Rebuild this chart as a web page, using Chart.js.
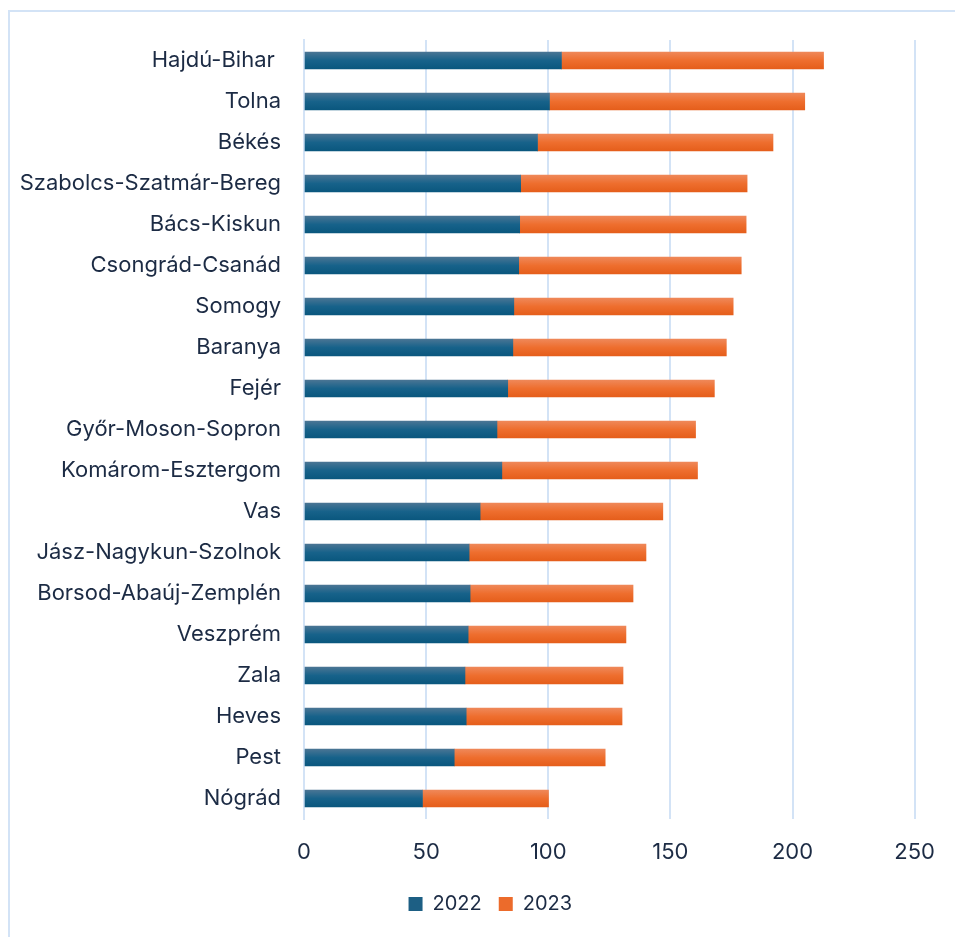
<!DOCTYPE html>
<html>
<head>
<meta charset="utf-8">
<script src="https://cdn.jsdelivr.net/npm/chart.js@4.4.1/dist/chart.umd.min.js"></script>
<style>
  body { margin: 0; background: #fff; }
  #frame { position: absolute; left: 8px; top: 10px; width: 960px; height: 940px; border: 2px solid #d3e3f6; }
  #wrap { position: absolute; left: 0; top: 0; width: 955px; height: 937px; }
</style>
</head>
<body>
<div id="frame"></div>
<div id="wrap"><canvas id="statsChart"></canvas></div>
<script>
// counties, top to bottom as in the picture
const counties = [
    "Hajdú-Bihar ", "Tolna", "Békés", "Szabolcs-Szatmár-Bereg", "Bács-Kiskun",
    "Csongrád-Csanád", "Somogy", "Baranya", "Fejér", "Győr-Moson-Sopron",
    "Komárom-Esztergom", "Vas", "Jász-Nagykun-Szolnok", "Borsod-Abaúj-Zemplén",
    "Veszprém", "Zala", "Heves", "Pest", "Nógrád"
];
const values2022 = [105.4, 100.5, 95.6, 88.7, 88.3, 87.9, 85.9, 85.5, 83.4, 79.0, 81.0, 72.1, 67.6, 68.0, 67.2, 65.9, 66.4, 61.5, 48.5];
const values2023 = [107.3, 104.5, 96.4, 92.7, 92.7, 91.1, 89.8, 87.4, 84.6, 81.3, 80.1, 74.8, 72.4, 66.7, 64.6, 64.7, 63.8, 61.8, 51.6];
const xTicks = [0, 50, 100, 150, 200, 250];

const textColor = "#1c2b44";
const gridColor = "#d3e3f6";
const barH = 17;

// vertical gradient per bar, built from the y scale position of the category
function barGradient(stops, solid) {
    return function (c) {
        const y = c.chart.scales && c.chart.scales.y;
        if (!y || c.dataIndex === undefined) return solid;
        const mid = y.getPixelForValue(c.dataIndex);
        if (!Number.isFinite(mid)) return solid;
        const g = c.chart.ctx.createLinearGradient(0, mid - barH / 2, 0, mid + barH / 2);
        g.addColorStop(0, stops[0]);
        g.addColorStop(0.5, stops[1]);
        g.addColorStop(1, stops[2]);
        return g;
    };
}

const blueSolid = "#1d5f84";
const orangeSolid = "#ec6b2b";

// legend is centred under a narrower band than the full canvas
const legendShift = {
    id: "legendShift",
    afterLayout(ch) {
        const lg = ch.legend;
        if (!lg) return;
        lg.left = 66;
        lg.right = ch.chartArea.right;
        lg.width = lg.right - lg.left;
    }
};

var ctx = document.getElementById("statsChart");
var chart = new Chart(ctx, {
    type: "bar",
    data: {
        labels: counties,
        datasets: [
            { label: "2022", data: values2022, backgroundColor: barGradient(["#4a7594", "#17628a", "#0a577e"], blueSolid), barThickness: barH },
            { label: "2023", data: values2023, backgroundColor: barGradient(["#ef8859", "#ee6e2e", "#e55e1b"], orangeSolid), barThickness: barH }
        ]
    },
    options: {
        indexAxis: "y",
        responsive: true,
        maintainAspectRatio: false,
        animation: false,
        layout: { padding: { left: 0, right: 36, top: 40, bottom: 13 } },
        scales: {
            x: {
                stacked: true,
                min: 0,
                max: 250,
                afterBuildTicks: (s) => { s.ticks = xTicks.map(v => ({ value: v })); },
                afterFit: (s) => { s.height = 58; },
                grid: { color: gridColor, lineWidth: 2, drawTicks: false },
                border: { display: false },
                ticks: { color: textColor, padding: 20, font: { family: "Inter", size: 22 } }
            },
            y: {
                stacked: true,
                afterFit: (s) => { s.width = 304; },
                grid: { display: false, drawTicks: false },
                border: { display: true, color: gridColor, width: 2 },
                ticks: { color: textColor, padding: 23, font: { family: "Inter", size: 22 } }
            }
        },
        plugins: {
            legend: {
                position: "bottom",
                labels: {
                    color: textColor,
                    boxWidth: 14,
                    boxHeight: 14,
                    padding: 17,
                    font: { family: "Inter", size: 20 },
                    generateLabels: (ch) => ch.data.datasets.map((d, i) => ({
                        text: d.label,
                        fillStyle: i === 0 ? blueSolid : orangeSolid,
                        strokeStyle: "transparent",
                        lineWidth: 0,
                        datasetIndex: i,
                        fontColor: textColor
                    }))
                }
            },
            tooltip: { enabled: false }
        }
    },
    plugins: [legendShift]
});
</script>
</body>
</html>
